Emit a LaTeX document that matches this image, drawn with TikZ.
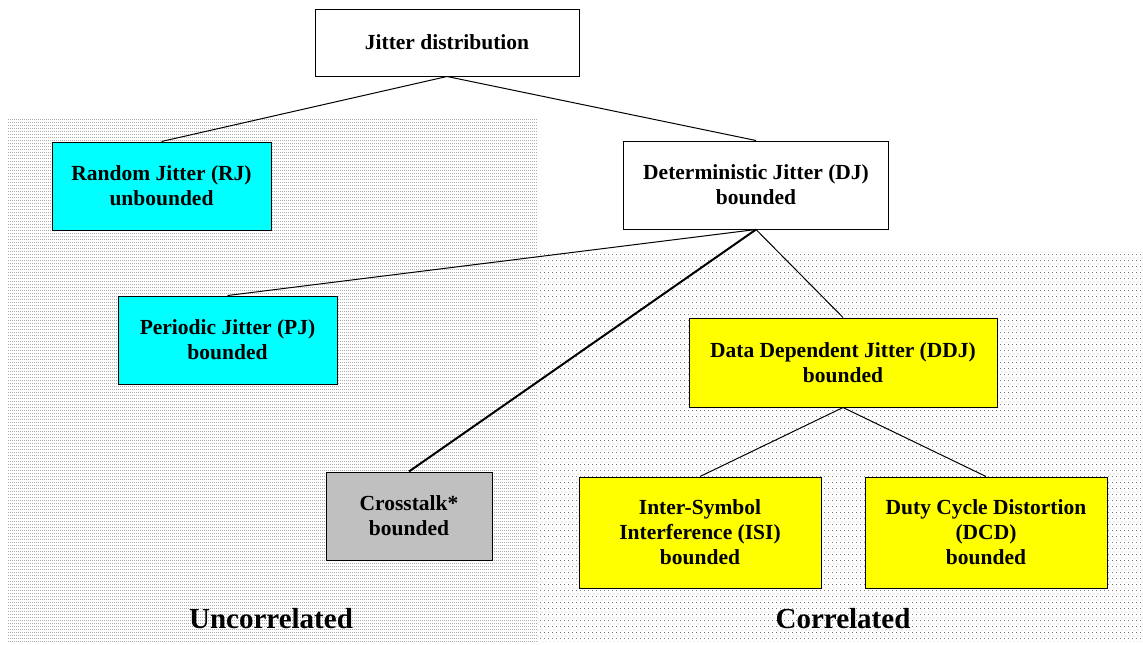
\documentclass[tikz,border=0pt]{standalone}
\usepackage{fontspec}
\setmainfont{Liberation Serif}
\usetikzlibrary{patterns.meta}
\definecolor{jcyan}{RGB}{0,255,255}
\definecolor{jyellow}{RGB}{255,255,0}
\definecolor{jgray}{RGB}{192,192,192}
\definecolor{dotgray}{RGB}{128,128,128}
\tikzdeclarepattern{name=denserows, type=uncolored,
  bounding box={(0pt,0pt) and (2pt,3pt)}, tile size={(2pt,3pt)},
  code={\fill (0pt,0pt) rectangle (1pt,1pt);}}
\tikzdeclarepattern{name=sparsedots, type=uncolored,
  bounding box={(0pt,0pt) and (4pt,6pt)}, tile size={(4pt,6pt)},
  code={\fill (0pt,0pt) rectangle (1pt,1pt); \fill (2pt,3pt) rectangle (3pt,4pt);}}
\begin{document}
\begin{tikzpicture}[x=1pt,y=-1pt,
  box/.style={draw=black, line width=1pt, inner sep=0pt, align=center,
    font=\fontsize{21.5}{25}\selectfont\bfseries},
  conn/.style={line width=1pt},
  thick conn/.style={line width=2pt},
  region label/.style={font=\fontsize{29}{32}\selectfont\bfseries}]
\useasboundingbox (0,0) rectangle (1143,645);
% background regions
\fill[pattern=denserows, pattern color=dotgray] (7,119) rectangle (537,641);
\fill[pattern=sparsedots, pattern color=dotgray] (537,252) rectangle (1143,641);
% nodes
\node[box, fill=white, minimum width=264pt, minimum height=67pt] (jd) at (447,42.5) {Jitter distribution};
\node[box, fill=jcyan, minimum width=219pt, minimum height=88pt] (rj) at (161.5,186) {Random Jitter (RJ)\\unbounded};
\node[box, fill=white, minimum width=265pt, minimum height=88pt] (dj) at (756,185) {Deterministic Jitter (DJ)\\bounded};
\node[box, fill=jcyan, minimum width=219pt, minimum height=88pt] (pj) at (227.5,340) {Periodic Jitter (PJ)\\bounded};
\node[box, fill=jgray, minimum width=166pt, minimum height=88pt] (ct) at (409,516) {Crosstalk*\\bounded};
\node[box, fill=jyellow, minimum width=308pt, minimum height=89pt] (ddj) at (843,362.5) {Data Dependent Jitter (DDJ)\\bounded};
\node[box, fill=jyellow, minimum width=242pt, minimum height=111pt] (isi) at (700,532.5) {Inter-Symbol\\Interference (ISI)\\bounded};
\node[box, fill=jyellow, minimum width=242pt, minimum height=111pt] (dcd) at (986,532.5) {Duty Cycle Distortion\\(DCD)\\bounded};
% connectors
\draw[conn] (jd.south) -- (rj.north);
\draw[conn] (jd.south) -- (dj.north);
\draw[conn] (dj.south) -- (pj.north);
\draw[thick conn] (dj.south) -- (ct.north);
\draw[conn] (dj.south) -- (ddj.north);
\draw[conn] (ddj.south) -- (isi.north);
\draw[conn] (ddj.south) -- (dcd.north);
% region labels
\node[region label] (unc) at (271,619) {Uncorrelated};
\node[region label] (cor) at (843,619) {Correlated};
\end{tikzpicture}
\end{document}
